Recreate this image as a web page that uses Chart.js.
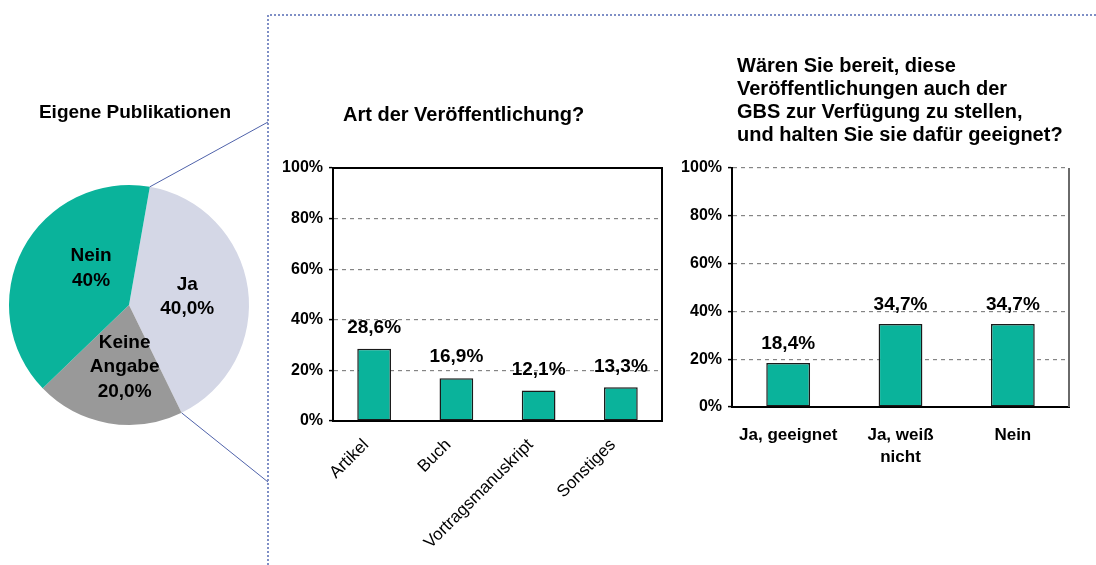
<!DOCTYPE html>
<html><head><meta charset="utf-8">
<script src="https://cdn.jsdelivr.net/npm/chart.js@4.4.0/dist/chart.umd.min.js"></script>
<style>
html,body{margin:0;padding:0;background:#fff;}
#wrap{position:relative;width:1096px;height:565px;overflow:hidden;background:#fff;}
#wrap canvas{position:absolute;left:0;top:0;}
</style></head><body>
<div id="wrap">
<canvas id="pie" width="1096" height="565"></canvas>
<canvas id="art" width="1096" height="565"></canvas>
<canvas id="gbs" width="1096" height="565"></canvas>
</div>
<script>
// ---------- data ----------
const pieTitle = "Eigene Publikationen";
const pieLabels = [["Ja"], ["Keine", "Angabe"], ["Nein"]];
const pieValues = [40.0, 20.0, 40.0];
const pieValueTexts = ["40,0%", "20,0%", "40%"];

const artTitle = "Art der Veröffentlichung?";
const artLabels = ["Artikel", "Buch", "Vortragsmanuskript", "Sonstiges"];
const artValues = [28.6, 16.9, 12.1, 13.3];

const gbsTitle = ["Wären Sie bereit, diese", "Veröffentlichungen auch der", "GBS zur Verfügung zu stellen,", "und halten Sie sie dafür geeignet?"];
const gbsLabels = [["Ja, geeignet"], ["Ja, weiß", "nicht"], ["Nein"]];
const gbsValues = [18.4, 34.7, 34.7];

const yMin = 0, yMax = 100, yStep = 20;

// ---------- styles ----------
const FONT = '"Liberation Sans", Arial, Helvetica, sans-serif';
Chart.defaults.font.family = FONT;
Chart.defaults.color = '#000';
const TEAL = '#0AB39B', LAV = '#D4D7E6', GREY = '#999999';
const fmt = v => v.toFixed(1).replace('.', ',') + '%';

// pie label placement (radius fraction, angle tweak in degrees)
const pieLabelPlace = [{f: 0.49, da: 0}, {f: 0.52, da: -6}, {f: 0.44, da: 16}];

const piePlugin = {
  id: 'pieDeco',
  beforeDraw(chart) {
    const ctx = chart.ctx;
    ctx.save();
    ctx.strokeStyle = '#7F8FC6';
    ctx.lineWidth = 2;
    ctx.setLineDash([2, 2]);
    ctx.beginPath();
    ctx.moveTo(268, 565); ctx.lineTo(268, 15); ctx.lineTo(1096, 15);
    ctx.stroke();
    ctx.restore();
  },
  afterDraw(chart) {
    const ctx = chart.ctx;
    const meta = chart.getDatasetMeta(0);
    ctx.save();
    const a = meta.data[0];
    const p = a.getProps(['x', 'y', 'startAngle', 'endAngle', 'outerRadius'], true);
    ctx.strokeStyle = '#4F62AA';
    ctx.lineWidth = 1;
    ctx.beginPath();
    ctx.moveTo(p.x + p.outerRadius * Math.cos(p.startAngle), p.y + p.outerRadius * Math.sin(p.startAngle));
    ctx.lineTo(268, 122);
    ctx.moveTo(p.x + p.outerRadius * Math.cos(p.endAngle), p.y + p.outerRadius * Math.sin(p.endAngle));
    ctx.lineTo(268, 482);
    ctx.stroke();
    ctx.fillStyle = '#000';
    ctx.font = 'bold 19px ' + FONT;
    ctx.textAlign = 'center';
    ctx.textBaseline = 'middle';
    meta.data.forEach((arc, i) => {
      const q = arc.getProps(['x', 'y', 'startAngle', 'endAngle', 'outerRadius'], true);
      const mid = (q.startAngle + q.endAngle) / 2 + pieLabelPlace[i].da * Math.PI / 180;
      const r = q.outerRadius * pieLabelPlace[i].f;
      const cx = q.x + r * Math.cos(mid), cy = q.y + r * Math.sin(mid);
      const lines = pieLabels[i].concat([pieValueTexts[i]]);
      const lh = 24.5;
      lines.forEach((t, k) => ctx.fillText(t, cx, cy + (k - (lines.length - 1) / 2) * lh));
    });
    ctx.font = 'bold 19px ' + FONT;
    ctx.fillText(pieTitle, 135, 113);
    ctx.restore();
  }
};

new Chart(document.getElementById('pie'), {
  type: 'pie',
  data: { labels: pieLabels.map(l => l.join(' ')), datasets: [{ data: pieValues, backgroundColor: [LAV, GREY, TEAL], borderWidth: 0 }] },
  options: {
    responsive: false, animation: false, rotation: 10,
    layout: { padding: { left: 9, right: 1096 - 249, top: 184, bottom: 565 - 426 } },
    plugins: { legend: { display: false }, tooltip: { enabled: false } }
  },
  plugins: [piePlugin]
});

function makeBar(id, labels, values, cfg) {
  const labelPlugin = {
    id: 'barDeco',
    beforeDatasetsDraw(chart) {
      const { ctx, chartArea: ca } = chart;
      ctx.save();
      ctx.lineWidth = 2;
      ctx.strokeStyle = cfg.frameColor;
      ctx.beginPath();
      ctx.moveTo(ca.right, ca.bottom); ctx.lineTo(ca.right, ca.top);
      if (cfg.solidTop) ctx.lineTo(ca.left, ca.top);
      ctx.stroke();
      ctx.restore();
    },
    afterDatasetsDraw(chart) {
      const ctx = chart.ctx;
      ctx.save();
      ctx.fillStyle = '#000';
      ctx.font = 'bold 19px ' + FONT;
      ctx.textAlign = 'center';
      ctx.textBaseline = 'middle';
      chart.getDatasetMeta(0).data.forEach((bar, i) => {
        ctx.fillText(fmt(values[i]), bar.x, bar.y - cfg.labelGap);
      });
      ctx.font = 'bold 20px ' + FONT;
      ctx.textAlign = cfg.titleAlign;
      cfg.title.forEach((t, k) => ctx.fillText(t, cfg.titleX, cfg.titleY + k * 23.3));
      ctx.restore();
    }
  };
  return new Chart(document.getElementById(id), {
    type: 'bar',
    data: { labels, datasets: [{ data: values, backgroundColor: TEAL, borderColor: '#1A1A1A', borderWidth: 1.5, borderSkipped: false, barPercentage: cfg.barPct, categoryPercentage: 1 }] },
    options: {
      responsive: false, animation: false,
      layout: { padding: cfg.padding },
      plugins: { legend: { display: false }, tooltip: { enabled: false } },
      scales: {
        x: {
          grid: { display: false },
          border: { color: '#000', width: 2 },
          ticks: { font: cfg.xFont, color: '#000', maxRotation: cfg.rot, minRotation: cfg.rot, autoSkip: false, padding: cfg.xPad, labelOffset: cfg.xOffset },
          afterFit: s => { s.height = cfg.xHeight; }
        },
        y: {
          min: yMin, max: yMax,
          ticks: { stepSize: yStep, callback: v => v + '%', font: { size: 16, weight: 'bold' }, color: '#000', padding: 6 },
          grid: { color: '#858585', lineWidth: 1.2, tickLength: 4, tickColor: '#000', tickWidth: 1.5, tickBorderDash: [] },
          border: { color: '#000', width: 2, dash: [4, 4] },
          afterFit: s => { s.width = cfg.yWidth; }
        }
      }
    },
    plugins: [labelPlugin]
  });
}

makeBar('art', artLabels, artValues, {
  padding: { left: 333 - 56, right: 1096 - 662, top: 168, bottom: 565 - 421 - 140 },
  yWidth: 56, xHeight: 140, rot: 45, xFont: { size: 17 }, xPad: 6, xOffset: -8,
  barPct: 0.41, labelGap: 21, frameColor: '#000', solidTop: true,
  title: [artTitle], titleX: 343, titleY: 115, titleAlign: 'left'
});

makeBar('gbs', gbsLabels, gbsValues, {
  padding: { left: 732 - 56, right: 1096 - 1069, top: 168, bottom: 565 - 407 - 70 },
  yWidth: 56, xHeight: 70, rot: 0, xFont: { size: 17, weight: 'bold', lineHeight: 1.3 }, xPad: 9, xOffset: 0,
  barPct: 0.39, labelGap: 19, frameColor: '#6A6A6A', solidTop: false,
  title: gbsTitle, titleX: 737, titleY: 66, titleAlign: 'left'
});
</script>
</body></html>
